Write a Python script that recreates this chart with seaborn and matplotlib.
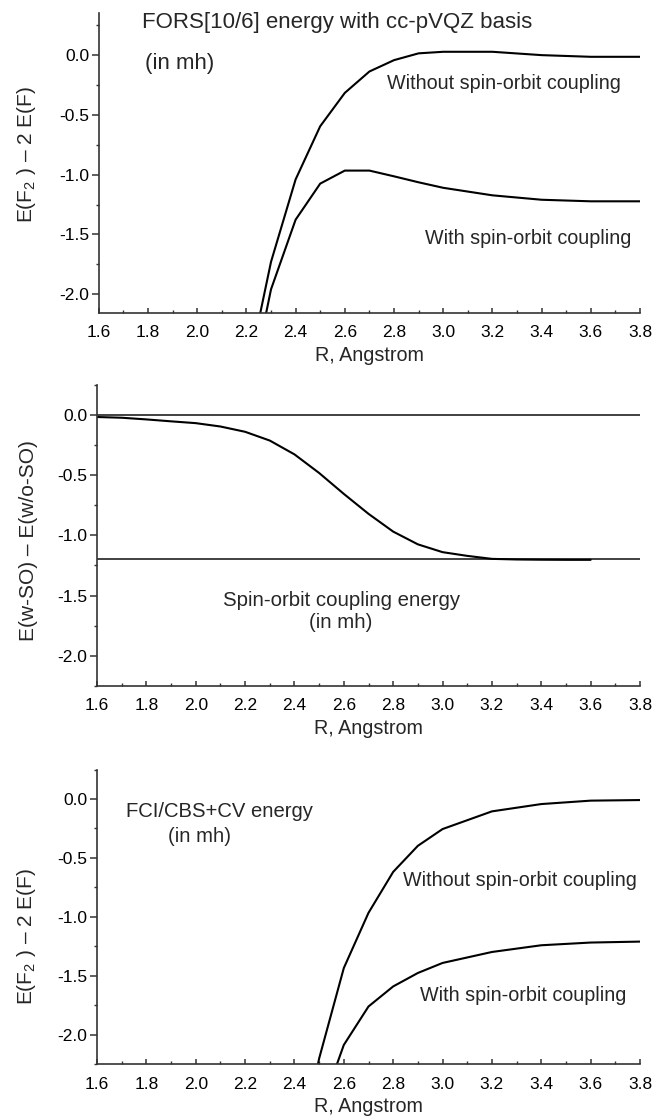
import matplotlib
matplotlib.use("Agg")
import numpy as np
import pandas as pd
import matplotlib.pyplot as plt
import seaborn as sns
from matplotlib.ticker import MultipleLocator, FormatStrFormatter

# ---------------- data ----------------
# Panel 1: FORS[10/6] energy with cc-pVQZ basis
R_top = [2.2, 2.3, 2.4, 2.5, 2.6, 2.7, 2.8, 2.9, 3.0, 3.2, 3.4, 3.6, 3.8]
fors_noso = [-2.71, -1.73, -1.04, -0.595, -0.316, -0.137, -0.042, 0.015, 0.028, 0.028, 0.0, -0.014, -0.014]
fors_so = [-2.96, -1.96, -1.377, -1.075, -0.966, -0.966, -1.014, -1.064, -1.11, -1.173, -1.21, -1.223, -1.223]

# Panel 2: spin-orbit coupling energy
R_mid = [1.6, 1.7, 1.8, 1.9, 2.0, 2.1, 2.2, 2.3, 2.4, 2.5, 2.6, 2.7, 2.8, 2.9,
         3.0, 3.1, 3.2, 3.3, 3.4, 3.5, 3.6]
so_energy = [-0.014, -0.02, -0.034, -0.05, -0.065, -0.093, -0.137, -0.21, -0.325, -0.48,
             -0.654, -0.82, -0.968, -1.074, -1.139, -1.17, -1.195, -1.2, -1.202, -1.203, -1.203]
ref_levels = [0.0, -1.2]

# Panel 3: FCI/CBS+CV energy
R_bot = [2.4, 2.5, 2.6, 2.7, 2.8, 2.9, 3.0, 3.2, 3.4, 3.6, 3.8]
fci_noso = [-3.2, -2.2, -1.433, -0.965, -0.618, -0.397, -0.255, -0.105, -0.043, -0.014, -0.009]
fci_so = [-3.53, -2.67, -2.085, -1.759, -1.589, -1.475, -1.39, -1.297, -1.24, -1.217, -1.209]

x_ticks_step = 0.2
y_ticks_step = 0.5

# ---------------- style ----------------
sns.set_style("ticks")
plt.rcParams["font.family"] = ["Liberation Sans", "DejaVu Sans"]
plt.rcParams["axes.unicode_minus"] = False
plt.rcParams["mathtext.fontset"] = "custom"
plt.rcParams["mathtext.rm"] = "Liberation Sans"
plt.rcParams["mathtext.it"] = "Liberation Sans:italic"
plt.rcParams["mathtext.default"] = "regular"

W, H = 655, 1117
fig = plt.figure(figsize=(W / 100, H / 100), dpi=100)


def rect(left, right, top, bottom):
    return [left / W, 1 - bottom / H, (right - left) / W, (bottom - top) / H]


ax1 = fig.add_axes(rect(98.8, 640, 13.3, 312.7))
ax2 = fig.add_axes(rect(97, 640, 385.3, 685.6))
ax3 = fig.add_axes(rect(97, 640, 769.5, 1064.4))

SPINE = "#333333"
TICK_FS = 12.5
LABEL_FS = 14.2


def style(ax, ylim, ylabel, lx, ly, xl_y):
    ax.set_xlim(1.6, 3.8)
    ax.set_ylim(*ylim)
    for s in ["top", "right"]:
        ax.spines[s].set_visible(False)
    for s in ["left", "bottom"]:
        ax.spines[s].set_linewidth(1.2)
        ax.spines[s].set_color(SPINE)
    ax.xaxis.set_major_locator(MultipleLocator(x_ticks_step))
    ax.xaxis.set_minor_locator(MultipleLocator(x_ticks_step / 2))
    ax.yaxis.set_major_locator(MultipleLocator(y_ticks_step))
    ax.yaxis.set_minor_locator(MultipleLocator(y_ticks_step / 2))
    ax.xaxis.set_major_formatter(FormatStrFormatter("%.1f"))
    ax.yaxis.set_major_formatter(FormatStrFormatter("%.1f"))
    ax.tick_params(axis="x", which="major", direction="in", length=3.5, width=1.1,
                   pad=8.8, labelsize=TICK_FS, color=SPINE, labelcolor="black")
    ax.tick_params(axis="x", which="minor", direction="in", length=2.5, width=1.0, color=SPINE)
    ax.tick_params(axis="y", which="major", direction="out", length=5, width=1.1,
                   pad=2, labelsize=TICK_FS, color=SPINE, labelcolor="black")
    ax.tick_params(axis="y", which="minor", direction="out", length=2.2, width=1.0, color=SPINE)
    ax.set_xlabel("R, Angstrom", fontsize=LABEL_FS, va="baseline")
    ax.xaxis.set_label_coords(0.5, xl_y)
    ax.set_ylabel(ylabel, fontsize=15)
    ax.yaxis.set_label_coords(lx, ly)


LW = 1.5

# ---- Panel 1 ----
df1 = pd.DataFrame({"R": R_top, "noso": fors_noso, "so": fors_so})
sns.lineplot(data=df1, x="R", y="noso", ax=ax1, color="black", lw=LW)
sns.lineplot(data=df1, x="R", y="so", ax=ax1, color="black", lw=LW)
style(ax1, (-2.155, 0.35), r"E(F$_2$ ) – 2 E(F)", -0.113, 0.527, -0.1617)
ax1.text(1.776, 0.223, "FORS[10/6] energy with cc-pVQZ basis", fontsize=16,
         ha="left", va="baseline")
ax1.text(1.788, -0.114, "(in mh)", fontsize=16, ha="left", va="baseline")
ax1.text(2.773, -0.287, "Without spin-orbit coupling", fontsize=14.2,
         ha="left", va="baseline")
ax1.text(2.925, -1.58, "With spin-orbit coupling", fontsize=14.2,
         ha="left", va="baseline")

# ---- Panel 2 ----
df2 = pd.DataFrame({"R": R_mid, "dE": so_energy})
for lvl in ref_levels:
    ax2.axhline(lvl, color=SPINE, lw=1.3)
sns.lineplot(data=df2, x="R", y="dE", ax=ax2, color="black", lw=LW)
style(ax2, (-2.25, 0.25), "E(w-SO) – E(w/o-SO)", -0.109, 0.484, -0.161)
ax2.text(2.589, -1.633, "Spin-orbit coupling energy\n(in mh)", fontsize=14.7,
         ha="center", va="center", linespacing=1.2)

# ---- Panel 3 ----
df3 = pd.DataFrame({"R": R_bot, "noso": fci_noso, "so": fci_so})
sns.lineplot(data=df3, x="R", y="noso", ax=ax3, color="black", lw=LW)
sns.lineplot(data=df3, x="R", y="so", ax=ax3, color="black", lw=LW)
style(ax3, (-2.25, 0.25), r"E(F$_2$ ) – 2 E(F)", -0.109, 0.433, -0.163)
ax3.text(2.098, -0.152, "FCI/CBS+CV energy", fontsize=14.6, ha="center", va="baseline")
ax3.text(2.016, -0.366, "(in mh)", fontsize=14.6, ha="center", va="baseline")
ax3.text(2.841, -0.736, "Without spin-orbit coupling", fontsize=14.2,
         ha="left", va="baseline")
ax3.text(2.910, -1.714, "With spin-orbit coupling", fontsize=14.2,
         ha="left", va="baseline")

fig.savefig("out.png", dpi=100)
